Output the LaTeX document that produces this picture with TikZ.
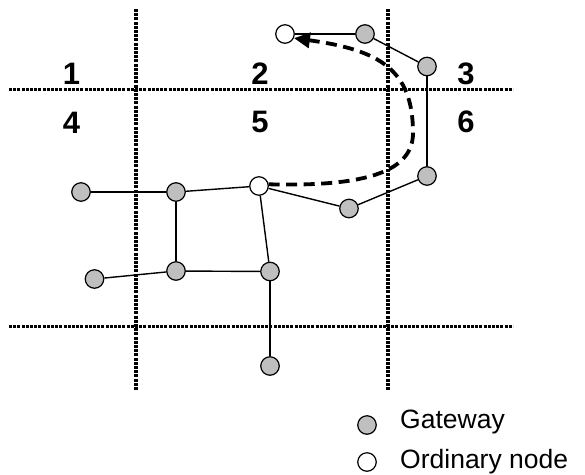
\documentclass[tikz,border=0pt]{standalone}
\usepackage{fontspec}
\setmainfont{Liberation Sans}
\usetikzlibrary{arrows.meta}
\tikzset{
  gridline/.style={line width=3.4pt, dash pattern=on 3pt off 1.2pt, black},
  gw/.style={circle, draw=black, line width=1.2pt, fill=gray!50, minimum size=18.5pt, inner sep=0pt},
  ord/.style={circle, draw=black, line width=1.2pt, fill=white, minimum size=18.5pt, inner sep=0pt},
  link/.style={line width=1.4pt, black},
  route/.style={line width=3.8pt, dash pattern=on 11pt off 6.5pt, -{Triangle[length=16pt,width=15pt]}},
  cell/.style={font=\fontsize{31}{33}\selectfont\bfseries, inner sep=0pt},
  legtext/.style={font=\fontsize{26.5}{28}\selectfont, inner sep=0pt, anchor=base west}
}
\begin{document}
\begin{tikzpicture}[x=1pt,y=-1pt]
\useasboundingbox (0,0) rectangle (585,474);
% grid
\coordinate (v1t) at (136,9); \coordinate (v1b) at (136,390);
\coordinate (v2t) at (388,9); \coordinate (v2b) at (388,390);
\coordinate (h1l) at (9,89.5); \coordinate (h1r) at (513,89.5);
\coordinate (h2l) at (9,326.5); \coordinate (h2r) at (513,326.5);
\draw[gridline] (v1t) -- (v1b);
\draw[gridline] (v2t) -- (v2b);
\draw[gridline] (h1l) -- (h1r);
\draw[gridline] (h2l) -- (h2r);
% cell labels
\node[cell] (l1) at (71.5,73.5) {1};
\node[cell] (l2) at (260,74) {2};
\node[cell] (l3) at (466,73.5) {3};
\node[cell] (l4) at (71.5,123) {4};
\node[cell] (l5) at (260,122) {5};
\node[cell] (l6) at (466,122) {6};
% nodes
\node[ord] (A) at (285,34) {};
\node[gw] (B) at (365,34) {};
\node[gw] (C) at (427,66.5) {};
\node[gw] (D) at (427,176) {};
\node[gw] (E) at (349,208.5) {};
\node[ord] (F) at (259,186) {};
\node[gw] (G1) at (81,192) {};
\node[gw] (G2) at (176,192) {};
\node[gw] (H1) at (94.5,279) {};
\node[gw] (H2) at (176,271) {};
\node[gw] (H3) at (270,271.5) {};
\node[gw] (H4) at (270,366) {};
% links
\draw[link] (A) -- (B);
\draw[link] (B) -- (C);
\draw[link] (C) -- (D);
\draw[link] (D) -- (E);
\draw[link] (E) -- (F);
\draw[link] (F) -- (G2);
\draw[link] (G1) -- (G2);
\draw[link] (G2) -- (H2);
\draw[link] (H1) -- (H2);
\draw[link] (H2) -- (H3);
\draw[link] (F) -- (H3);
\draw[link] (H3) -- (H4);
% route
\coordinate (turn) at (413,133);
\draw[route] (F.10) .. controls (370,187) and (413,170) .. (turn)
  .. controls (413,70) and (380,50) .. (A.-25);
% legend
\node[gw] (lg1) at (367,425) {};
\node[ord] (lg2) at (367,462) {};
\node[legtext] (lt1) at (400,428) {Gateway};
\node[legtext] (lt2) at (400,468) {Ordinary node};
\end{tikzpicture}
\end{document}
